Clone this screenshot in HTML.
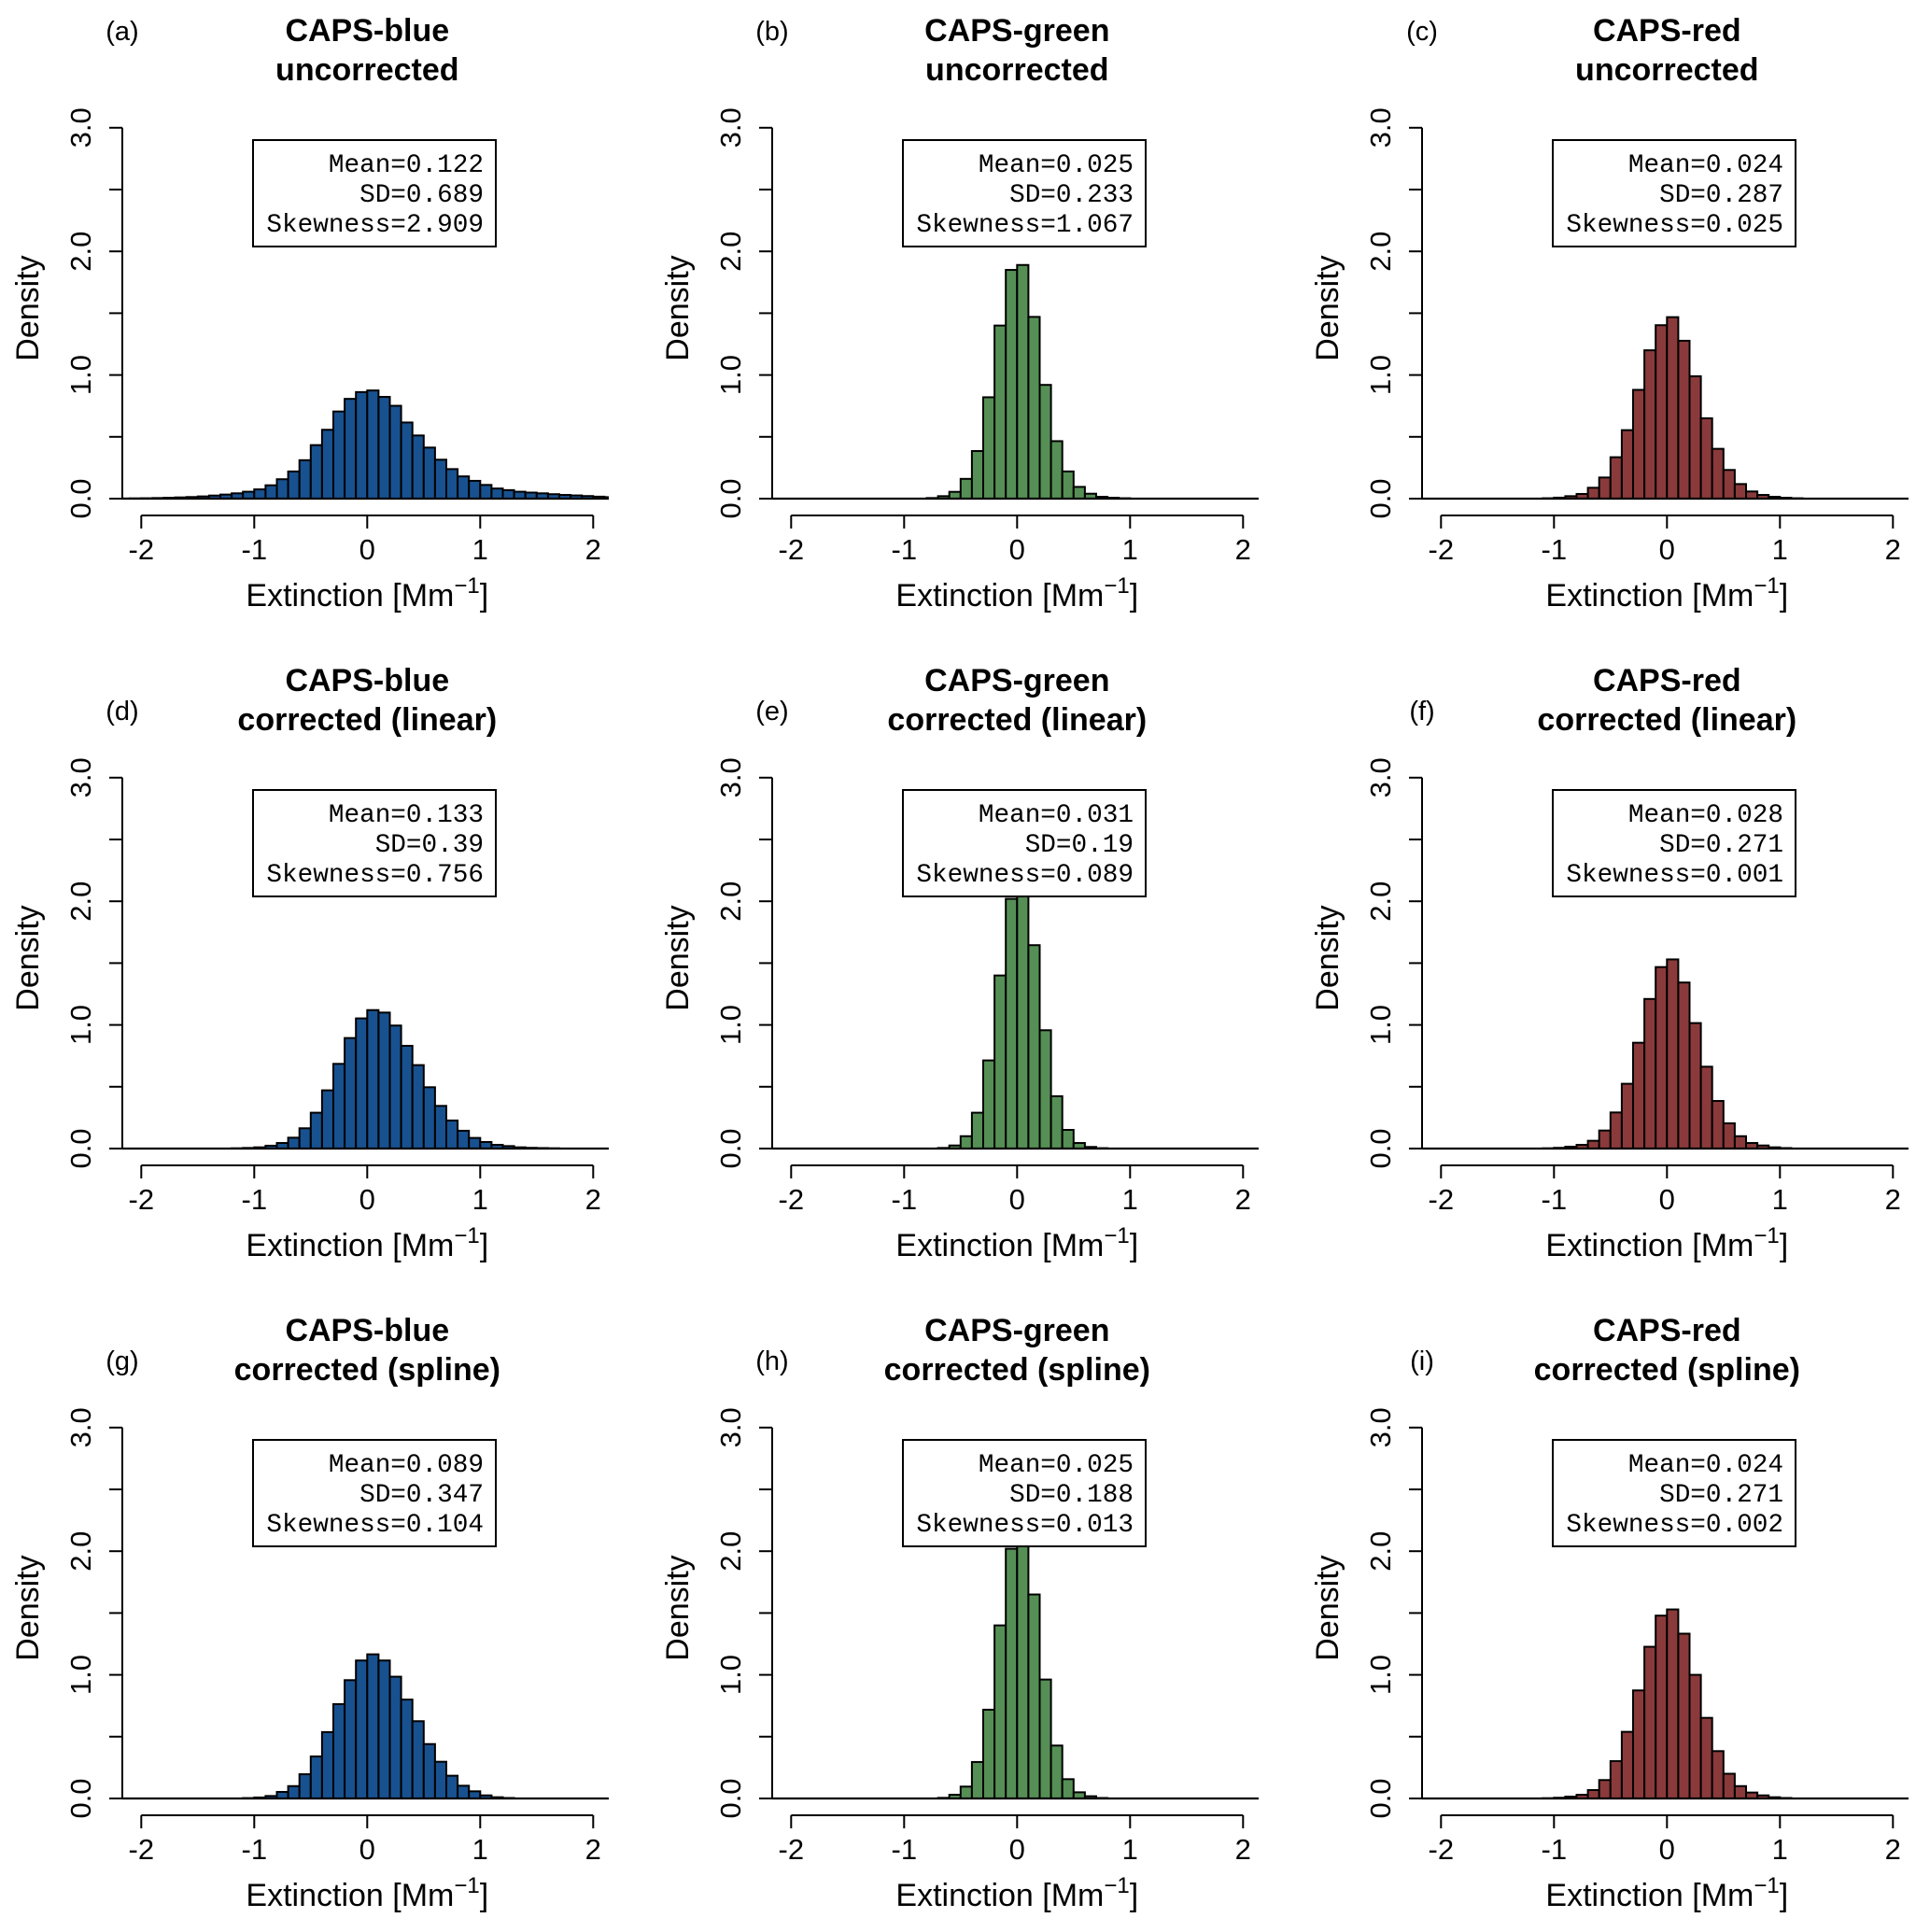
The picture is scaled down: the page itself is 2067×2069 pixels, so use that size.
<!DOCTYPE html>
<html><head><meta charset="utf-8"><style>
html,body{margin:0;padding:0;background:#fff;}
svg{display:block;}
text{font-family:"Liberation Sans",sans-serif;fill:#000;}
.mono{font-family:"Liberation Mono",monospace;}
</style></head>
<body>
<svg id="fig" width="2067" height="2069" viewBox="0 0 2067 2069" xmlns="http://www.w3.org/2000/svg"></svg>
<script>
// Shared bin left edges (bin width 0.1)
const binLefts = [-2.2,-2.1,-2.0,-1.9,-1.8,-1.7,-1.6,-1.5,-1.4,-1.3,-1.2,-1.1,-1.0,-0.9,-0.8,-0.7,-0.6,-0.5,-0.4,-0.3,-0.2,-0.1,
  0.0,0.1,0.2,0.3,0.4,0.5,0.6,0.7,0.8,0.9,1.0,1.1,1.2,1.3,1.4,1.5,1.6,1.7,1.8,1.9,2.0,2.1];
const binWidth = 0.1;
const panelLetters = ["(a)","(b)","(c)","(d)","(e)","(f)","(g)","(h)","(i)"];
const panelTitles1 = ["CAPS-blue","CAPS-green","CAPS-red","CAPS-blue","CAPS-green","CAPS-red","CAPS-blue","CAPS-green","CAPS-red"];
const panelTitles2 = ["uncorrected","uncorrected","uncorrected","corrected (linear)","corrected (linear)","corrected (linear)","corrected (spline)","corrected (spline)","corrected (spline)"];
const statMean = ["0.122","0.025","0.024","0.133","0.031","0.028","0.089","0.025","0.024"];
const statSD = ["0.689","0.233","0.287","0.39","0.19","0.271","0.347","0.188","0.271"];
const statSkew = ["2.909","1.067","0.025","0.756","0.089","0.001","0.104","0.013","0.002"];
const yTickValues = [0,0.5,1,1.5,2,2.5,3];
const yTickLabels = ["0.0","","1.0","","2.0","","3.0"];
const xTickValues = [-2,-1,0,1,2];
const xTickLabels = ["-2","-1","0","1","2"];

const densA = [0.001,0.002,0.003,0.005,0.007,0.01,0.013,0.018,0.025,0.033,0.043,0.056,0.075,0.108,0.157,0.22,0.311,0.433,0.557,0.705,0.807,0.862,
  0.875,0.823,0.751,0.616,0.511,0.413,0.315,0.239,0.18,0.144,0.111,0.082,0.069,0.056,0.049,0.043,0.036,0.03,0.026,0.021,0.016,0.012];
const densB = [0,0,0,0,0,0,0,0,0,0,0,0,0,0,0.005,0.02,0.055,0.16,0.385,0.82,1.40,1.85,
  1.89,1.47,0.92,0.465,0.22,0.095,0.04,0.015,0.007,0.003,0,0,0,0,0,0,0,0,0,0,0,0];
const densC = [0,0,0,0,0,0,0,0,0,0,0,0.003,0.008,0.02,0.038,0.088,0.171,0.335,0.554,0.88,1.20,1.403,
  1.468,1.277,0.99,0.65,0.403,0.232,0.118,0.058,0.03,0.015,0.007,0.003,0,0,0,0,0,0,0,0,0,0];
const densD = [0,0,0,0,0,0,0,0,0,0,0.002,0.005,0.01,0.023,0.045,0.088,0.164,0.29,0.471,0.685,0.894,1.053,
  1.12,1.10,0.995,0.831,0.675,0.496,0.345,0.227,0.144,0.086,0.053,0.03,0.02,0.01,0.006,0.004,0.002,0,0,0,0,0];
const densE = [0,0,0,0,0,0,0,0,0,0,0,0,0,0,0,0.005,0.025,0.10,0.29,0.713,1.40,2.02,
  2.06,1.645,0.957,0.423,0.151,0.045,0.013,0.003,0,0,0,0,0,0,0,0,0,0,0,0,0,0];
const densF = [0,0,0,0,0,0,0,0,0,0,0,0.002,0.006,0.015,0.03,0.063,0.146,0.292,0.524,0.856,1.21,1.468,
  1.53,1.343,1.015,0.662,0.385,0.204,0.10,0.045,0.025,0.01,0.004,0,0,0,0,0,0,0,0,0,0,0];
const densG = [0,0,0,0,0,0,0,0,0,0,0,0.003,0.008,0.02,0.053,0.10,0.196,0.34,0.537,0.763,0.957,1.116,
  1.166,1.116,0.985,0.80,0.625,0.44,0.297,0.184,0.103,0.058,0.025,0.01,0.004,0,0,0,0,0,0,0,0,0];
const densH = [0,0,0,0,0,0,0,0,0,0,0,0,0,0,0,0.005,0.03,0.096,0.295,0.718,1.40,2.02,
  2.07,1.65,0.962,0.428,0.156,0.05,0.018,0.004,0,0,0,0,0,0,0,0,0,0,0,0,0,0];
const densI = [0,0,0,0,0,0,0,0,0,0,0,0.002,0.006,0.015,0.03,0.068,0.149,0.302,0.539,0.874,1.227,1.479,
  1.529,1.333,1.0,0.652,0.383,0.20,0.10,0.048,0.025,0.01,0.004,0,0,0,0,0,0,0,0,0,0,0];
const panelDensities = [densA,densB,densC,densD,densE,densF,densG,densH,densI];

const NS = "http://www.w3.org/2000/svg";
const svg = document.getElementById("fig");
const colors = ["#18518f","#558f55","#8a3a3b"];
function mk(tag, attrs, parent){
  const e = document.createElementNS(NS, tag);
  for (const k in attrs) e.setAttribute(k, attrs[k]);
  parent.appendChild(e);
  return e;
}
const UX = 121, UY = 132.4;
for (let p = 0; p < 9; p++) {
  const col = p % 3, row = Math.floor(p / 3);
  const ox = 131 + 696 * col, baseY = 534 + 696 * row;
  const x0 = ox + 262.3;
  const xs = v => x0 + v * UX;
  const ys = v => baseY - v * UY;
  const right = ox + 521;
  const g = mk("g", {}, svg);
  
  
  const clipId = "clip" + p;
  const cp = mk("clipPath", {id: clipId}, g);
  mk("rect", {x: ox, y: baseY - 420, width: right - ox, height: 430}, cp);
  const bars = mk("g", {"clip-path": "url(#" + clipId + ")"}, g);
  
  
  const dens = panelDensities[p];
  for (let i = 0; i < binLefts.length; i++) {
    if (dens[i] <= 0) continue;
    const xa = xs(binLefts[i]), xb = xs(binLefts[i] + binWidth);
    const r = mk("rect", {x: xa, y: ys(dens[i]), width: xb - xa, height: baseY - ys(dens[i]),
      fill: colors[col], stroke: "#000", "stroke-width": 2}, bars);
    
    
  }
  const bl = mk("line", {x1: ox, x2: right, y1: baseY, y2: baseY, stroke: "#000", "stroke-width": 2.2}, g);
  
  
  // y axis
  const ya = mk("line", {x1: ox, x2: ox, y1: ys(0), y2: ys(3), stroke: "#000", "stroke-width": 2}, g);
  
  
  for (let t = 0; t < yTickValues.length; t++) {
    const y = ys(yTickValues[t]);
    mk("line", {x1: ox - 14, x2: ox, y1: y, y2: y, stroke: "#000", "stroke-width": 2}, g);
    if (yTickLabels[t]) {
      const tx = mk("text", {x: 0, y: 0, "font-size": 31, "text-anchor": "middle",
        transform: "translate(" + (ox - 34) + "," + y + ") rotate(-90)"}, g);
      tx.textContent = yTickLabels[t];
      
      
    }
  }
  const yl = mk("text", {x: 0, y: 0, "font-size": 34, "text-anchor": "middle",
    transform: "translate(" + (ox - 90) + "," + (baseY - 204) + ") rotate(-90)"}, g);
  yl.textContent = "Density";
  
  
  // x axis
  const axY = baseY + 18;
  const xa = mk("line", {x1: xs(-2), x2: xs(2), y1: axY, y2: axY, stroke: "#000", "stroke-width": 2}, g);
  
  
  for (let t = 0; t < xTickValues.length; t++) {
    const x = xs(xTickValues[t]);
    mk("line", {x1: x, x2: x, y1: axY, y2: axY + 14, stroke: "#000", "stroke-width": 2}, g);
    const tx = mk("text", {x: x, y: baseY + 65, "font-size": 31, "text-anchor": "middle"}, g);
    tx.textContent = xTickLabels[t];
    
    
  }
  const xl = mk("text", {x: x0, y: baseY + 115, "font-size": 34, "text-anchor": "middle"}, g);
  
  
  xl.appendChild(document.createTextNode("Extinction [Mm"));
  const sup = mk("tspan", {dy: -14, "font-size": 24}, xl);
  sup.textContent = "\u22121";
  const cl = mk("tspan", {dy: 14}, xl);
  cl.textContent = "]";
  // titles
  const t1 = mk("text", {x: x0, y: baseY - 490, "font-size": 34, "font-weight": "bold", "text-anchor": "middle"}, g);
  t1.textContent = panelTitles1[p];
  
  
  const t2 = mk("text", {x: x0, y: baseY - 448, "font-size": 34, "font-weight": "bold", "text-anchor": "middle"}, g);
  t2.textContent = panelTitles2[p];
  
  
  const lt = mk("text", {x: ox, y: baseY + (row === 0 ? -491 : -459), "font-size": 29, "text-anchor": "middle"}, g);
  lt.textContent = panelLetters[p];
  
  
  // stats box
  const bx = mk("rect", {x: ox + 140, y: baseY - 384, width: 260, height: 114, fill: "#fff", stroke: "#000", "stroke-width": 2}, g);
  
  
  const lines = ["Mean=" + statMean[p], "SD=" + statSD[p], "Skewness=" + statSkew[p]];
  const ly = [-350, -318, -286];
  for (let k = 0; k < 3; k++) {
    const st = mk("text", {x: ox + 387, y: baseY + ly[k], "font-size": 27.7, "text-anchor": "end", "class": "mono"}, g);
    st.textContent = lines[k];
    
    
  }
}
</script>
</body></html>
